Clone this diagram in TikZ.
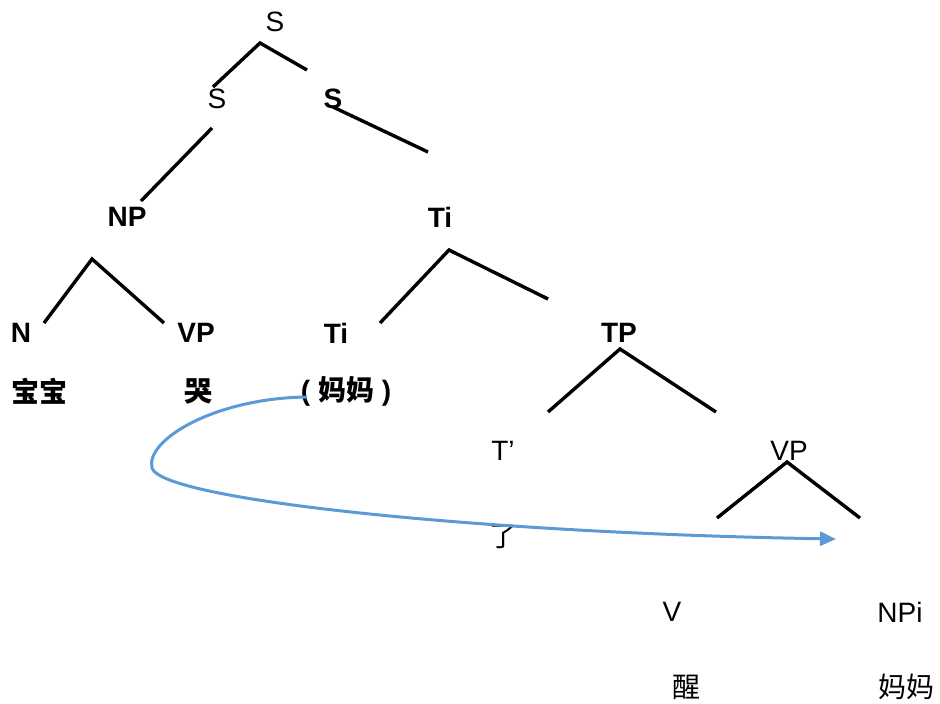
\documentclass[tikz,border=0pt]{standalone}
\usepackage{fontspec}
\setmainfont{Liberation Sans}
\newfontfamily\cjk{Noto Sans CJK SC}
\usetikzlibrary{arrows.meta}
\definecolor{arrowblue}{HTML}{5B9BD5}
\tikzset{
  lbl/.style={inner sep=0pt, font=\fontsize{28}{30}\selectfont},
  blbl/.style={inner sep=0pt, font=\fontsize{28}{30}\selectfont\bfseries},
  zh/.style={inner sep=0pt, font=\fontsize{28}{30}\selectfont\cjk},
  bzh/.style={inner sep=0pt, font=\fontsize{28}{30}\selectfont\cjk\bfseries},
  branch/.style={line width=3.4pt, black},
  movearrow/.style={line width=3pt, arrowblue, -{Triangle[length=16pt,width=14pt]}}
}
\begin{document}
\begin{tikzpicture}[x=1pt,y=-1pt]
\useasboundingbox (0,0) rectangle (940,704);
% labels
\node[lbl]  (S0)  at (275,22) {S};
\node[lbl]  (S1)  at (217,99) {S};
\node[blbl] (S2)  at (333,99) {S};
\node[blbl] (NP)  at (127,217) {NP};
\node[blbl] (Ti1) at (440,217) {Ti};
\node[blbl] (N)   at (21,333) {N};
\node[blbl] (VP1) at (196,333) {VP};
\node[blbl] (Ti2) at (336,333) {Ti};
\node[blbl] (TP)  at (619,333) {TP};
\node[bzh]  (w1)  at (40,391) {宝宝};
\node[bzh]  (w2)  at (198,391) {哭};
\node[inner sep=0pt, font=\fontsize{28}{30}\selectfont\bfseries] (w3) at (346,391) {( {\cjk 妈妈} )};
\node[lbl]  (Tb)  at (503,451) {T’};
\node[lbl]  (VP2) at (789,451) {VP};
\node[zh]   (le)  at (503,537) {了};
\node[lbl]  (V)   at (672,612) {V};
\node[lbl]  (NPi) at (900,612) {NPi};
\node[zh]   (w4)  at (686,687) {醒};
\node[zh]   (w5)  at (906,687) {妈妈};
% branch points
\coordinate (a0) at (260,43);
\coordinate (a0l) at (213,87);
\coordinate (a0r) at (307,70);
\coordinate (b1) at (212,128);
\coordinate (b2) at (141,201);
\coordinate (c1) at (333,107);
\coordinate (c2) at (428,152);
\coordinate (np) at (92,259);
\coordinate (npl) at (44,323);
\coordinate (npr) at (164,323);
\coordinate (ti) at (449,250);
\coordinate (til) at (380,323);
\coordinate (tir) at (548,299);
\coordinate (tp) at (620,349);
\coordinate (tpl) at (548,412);
\coordinate (tpr) at (716,412);
\coordinate (vp) at (787,462);
\coordinate (vpl) at (717,518);
\coordinate (vpr) at (860,518);
\draw[branch] (a0l) -- (a0) -- (a0r);
\draw[branch] (b1) -- (b2);
\draw[branch] (c1) -- (c2);
\draw[branch] (npl) -- (np) -- (npr);
\draw[branch] (til) -- (ti) -- (tir);
\draw[branch] (tpl) -- (tp) -- (tpr);
\draw[branch] (vpl) -- (vp) -- (vpr);
% movement arrow
\coordinate (m0) at (307,397);
\coordinate (m1) at (152,468);
\coordinate (m2) at (836,539);
\draw[movearrow] (m0) .. controls (215,398) and (145,440) .. (m1)
  .. controls (162,500) and (480,533) .. (m2);
\end{tikzpicture}
\end{document}
